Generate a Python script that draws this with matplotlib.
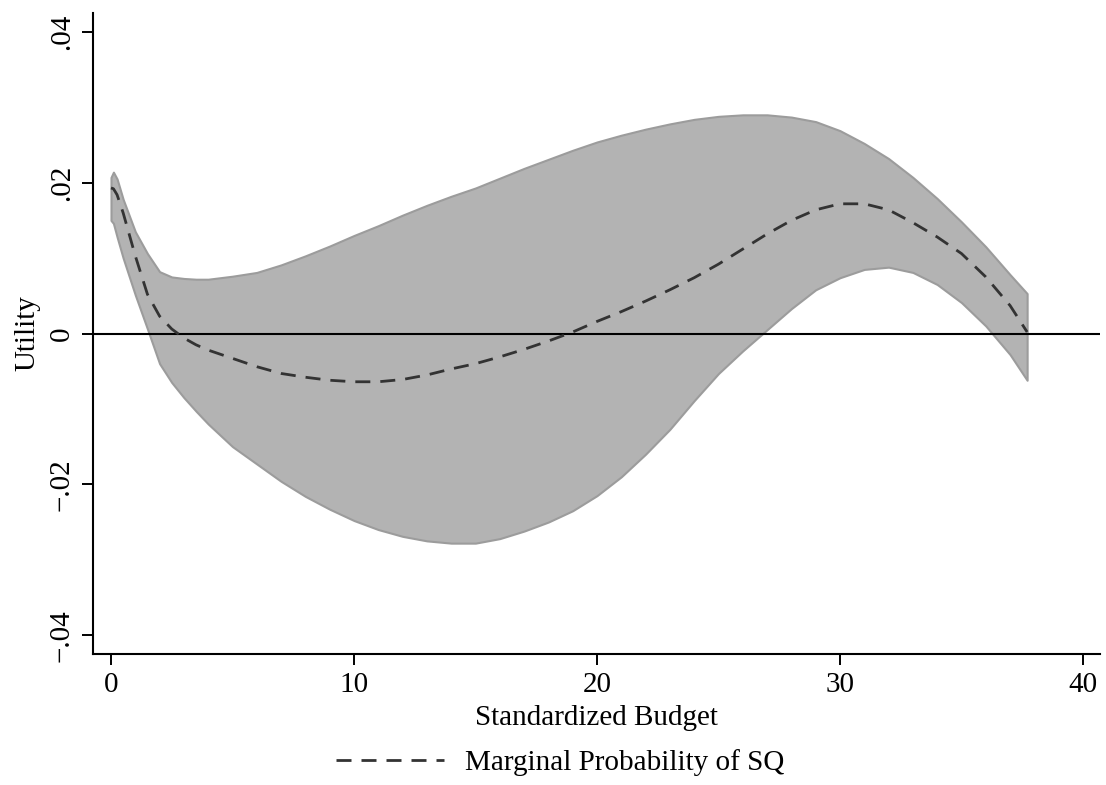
import matplotlib
matplotlib.use("Agg")
import matplotlib.pyplot as plt
from matplotlib.lines import Line2D

plt.rcParams['font.family'] = ['Liberation Serif', 'DejaVu Serif']

# Data
budget = [0, 0.1, 0.25, 0.5, 1, 1.5, 2, 2.5, 3, 3.5, 4, 5, 6, 7, 8, 9, 10, 11, 12, 13, 14,
          15, 16, 17, 18, 19, 20, 21, 22, 23, 24, 25, 26, 27, 28, 29, 30, 31, 32,
          33, 34, 35, 36, 37, 37.7]
mean_sq = [0.0193, 0.0192, 0.0184, 0.0160, 0.0103, 0.0052, 0.0023, 0.0006, -0.0006,
           -0.0015, -0.0022, -0.0033, -0.0044, -0.0053, -0.0058, -0.0062, -0.0064, -0.0064,
           -0.0061, -0.0055, -0.0047, -0.0040, -0.0031, -0.0021, -0.0010, 0.0002,
           0.0016, 0.0029, 0.0043, 0.0058, 0.0074, 0.0092, 0.0112, 0.0132, 0.0150,
           0.0164, 0.0172, 0.0172, 0.0164, 0.0147, 0.0128, 0.0106, 0.0075, 0.0037,
           0.0002]
upper_ci = [0.0207, 0.0214, 0.0205, 0.0178, 0.0135, 0.0106, 0.0082, 0.0075, 0.0073,
            0.0072, 0.0072, 0.0076, 0.0081, 0.0091, 0.0103, 0.0116, 0.0130, 0.0143, 0.0157,
            0.0170, 0.0182, 0.0193, 0.0206, 0.0219, 0.0231, 0.0243, 0.0254, 0.0263,
            0.0271, 0.0278, 0.0284, 0.0288, 0.0290, 0.0290, 0.0287, 0.0281, 0.0269,
            0.0252, 0.0232, 0.0207, 0.0179, 0.0148, 0.0115, 0.0078, 0.0053]
lower_ci = [0.0150, 0.0146, 0.0128, 0.0100, 0.0051, 0.0006, -0.0040, -0.0065, -0.0085,
            -0.0103, -0.0120, -0.0150, -0.0173, -0.0196, -0.0216, -0.0233, -0.0248, -0.0260,
            -0.0269, -0.0275, -0.0278, -0.0278, -0.0272, -0.0262, -0.0250, -0.0235,
            -0.0215, -0.0190, -0.0160, -0.0127, -0.0089, -0.0053, -0.0023, 0.0005,
            0.0033, 0.0058, 0.0074, 0.0085, 0.0088, 0.0081, 0.0065, 0.0041, 0.0010,
            -0.0028, -0.0062]

xticks = [0, 10, 20, 30, 40]
yticks = [-0.04, -0.02, 0, 0.02, 0.04]
ytick_labels = ["\u2212.04", "\u2212.02", "0", ".02", ".04"]

fig = plt.figure(figsize=(11.06, 7.85), dpi=100)
ax = fig.add_axes([0.0841, 0.1669, 0.9105, 0.8165])

ax.fill_between(budget, lower_ci, upper_ci, facecolor='#b3b3b3',
                edgecolor='#9c9c9c', linewidth=1.5, zorder=1)
ax.axhline(0, color='black', linewidth=1.5, zorder=2)
line, = ax.plot(budget, mean_sq, color='#333333', linewidth=2.0, zorder=3)
line.set_dashes((5.4, 3.6))

ax.set_xlim(-0.74, 40.7)
ax.set_ylim(-0.0425, 0.0425)
ax.set_xticks(xticks)
ax.set_xticklabels([str(t) for t in xticks])
ax.set_yticks(yticks)
ax.set_yticklabels(ytick_labels, rotation=90, va='center')

for s in ['top', 'right']:
    ax.spines[s].set_visible(False)
for s in ['left', 'bottom']:
    ax.spines[s].set_linewidth(1.5)

ax.tick_params(axis='both', length=8, width=1.4, labelsize=21, pad=5)
ax.set_xlabel("Standardized Budget", fontsize=21, labelpad=5)
ax.set_ylabel("Utility", fontsize=21, labelpad=6)

handle = Line2D([], [], color='#333333', linewidth=2.0, dashes=(5.4, 3.6))
fig.legend([handle], ["Marginal Probability of SQ"], loc='center',
           bbox_to_anchor=(560 / 1106, 1 - 763 / 785), frameon=False,
           fontsize=21, handlelength=3.7, handletextpad=0.7)

fig.savefig("out.png", dpi=100)
